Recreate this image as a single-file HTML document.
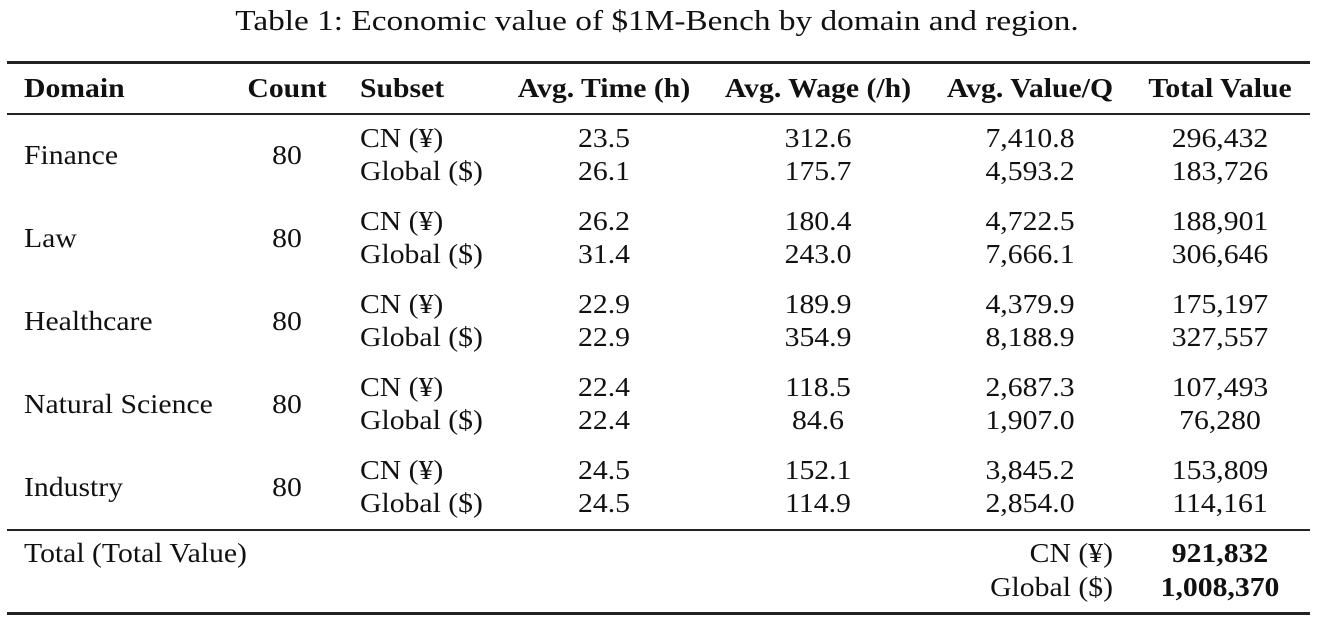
<!DOCTYPE html>
<html><head><meta charset="utf-8"><style>
body{margin:0;width:1324px;height:625px;background:#fff;position:relative;overflow:hidden;font-family:"Liberation Serif","Noto Serif CJK SC",serif;font-size:27px;color:#111}
.t{position:absolute;line-height:30px;white-space:nowrap;transform-origin:left center;transform:scaleX(1.1)}
.c{transform-origin:center center;transform:translateX(-50%) scaleX(1.1)}
.r{transform-origin:right center;transform:translateX(-100%) scaleX(1.1)}
.b{font-weight:bold}
.rule{position:absolute;left:7px;width:1303px;background:#222}
</style></head><body>
<div class="t c" style="left:657px;top:7px;font-size:28px;transform:translateX(-50%) scaleX(1.19)">Table 1: Economic value of $1M-Bench by domain and region.</div>
<div class="rule" style="top:61px;height:3px"></div>
<div class="rule" style="top:113px;height:2px"></div>
<div class="rule" style="top:529px;height:2px"></div>
<div class="rule" style="top:612px;height:3px"></div>

<div class="t b" style="left:24px;top:73px">Domain</div>
<div class="t b c" style="left:287px;top:73px">Count</div>
<div class="t b" style="left:360px;top:73px">Subset</div>
<div class="t b c" style="left:604px;top:73px">Avg. Time (h)</div>
<div class="t b c" style="left:818px;top:73px">Avg. Wage (/h)</div>
<div class="t b c" style="left:1030px;top:73px">Avg. Value/Q</div>
<div class="t b c" style="left:1220px;top:73px">Total Value</div>

<div class="t" style="left:24px;top:140px">Finance</div>
<div class="t c" style="left:287px;top:140px">80</div>
<div class="t" style="left:360px;top:123px">CN (¥)</div>
<div class="t" style="left:360px;top:156px">Global ($)</div>
<div class="t c" style="left:604px;top:123px">23.5</div><div class="t c" style="left:604px;top:156px">26.1</div>
<div class="t c" style="left:818px;top:123px">312.6</div><div class="t c" style="left:818px;top:156px">175.7</div>
<div class="t c" style="left:1030px;top:123px">7,410.8</div><div class="t c" style="left:1030px;top:156px">4,593.2</div>
<div class="t c" style="left:1220px;top:123px">296,432</div><div class="t c" style="left:1220px;top:156px">183,726</div>

<div class="t" style="left:24px;top:223px">Law</div>
<div class="t c" style="left:287px;top:223px">80</div>
<div class="t" style="left:360px;top:206px">CN (¥)</div>
<div class="t" style="left:360px;top:239px">Global ($)</div>
<div class="t c" style="left:604px;top:206px">26.2</div><div class="t c" style="left:604px;top:239px">31.4</div>
<div class="t c" style="left:818px;top:206px">180.4</div><div class="t c" style="left:818px;top:239px">243.0</div>
<div class="t c" style="left:1030px;top:206px">4,722.5</div><div class="t c" style="left:1030px;top:239px">7,666.1</div>
<div class="t c" style="left:1220px;top:206px">188,901</div><div class="t c" style="left:1220px;top:239px">306,646</div>

<div class="t" style="left:24px;top:306px">Healthcare</div>
<div class="t c" style="left:287px;top:306px">80</div>
<div class="t" style="left:360px;top:289px">CN (¥)</div>
<div class="t" style="left:360px;top:322px">Global ($)</div>
<div class="t c" style="left:604px;top:289px">22.9</div><div class="t c" style="left:604px;top:322px">22.9</div>
<div class="t c" style="left:818px;top:289px">189.9</div><div class="t c" style="left:818px;top:322px">354.9</div>
<div class="t c" style="left:1030px;top:289px">4,379.9</div><div class="t c" style="left:1030px;top:322px">8,188.9</div>
<div class="t c" style="left:1220px;top:289px">175,197</div><div class="t c" style="left:1220px;top:322px">327,557</div>

<div class="t" style="left:24px;top:389px">Natural Science</div>
<div class="t c" style="left:287px;top:389px">80</div>
<div class="t" style="left:360px;top:372px">CN (¥)</div>
<div class="t" style="left:360px;top:405px">Global ($)</div>
<div class="t c" style="left:604px;top:372px">22.4</div><div class="t c" style="left:604px;top:405px">22.4</div>
<div class="t c" style="left:818px;top:372px">118.5</div><div class="t c" style="left:818px;top:405px">84.6</div>
<div class="t c" style="left:1030px;top:372px">2,687.3</div><div class="t c" style="left:1030px;top:405px">1,907.0</div>
<div class="t c" style="left:1220px;top:372px">107,493</div><div class="t c" style="left:1220px;top:405px">76,280</div>

<div class="t" style="left:24px;top:472px">Industry</div>
<div class="t c" style="left:287px;top:472px">80</div>
<div class="t" style="left:360px;top:455px">CN (¥)</div>
<div class="t" style="left:360px;top:488px">Global ($)</div>
<div class="t c" style="left:604px;top:455px">24.5</div><div class="t c" style="left:604px;top:488px">24.5</div>
<div class="t c" style="left:818px;top:455px">152.1</div><div class="t c" style="left:818px;top:488px">114.9</div>
<div class="t c" style="left:1030px;top:455px">3,845.2</div><div class="t c" style="left:1030px;top:488px">2,854.0</div>
<div class="t c" style="left:1220px;top:455px">153,809</div><div class="t c" style="left:1220px;top:488px">114,161</div>

<div class="t" style="left:24px;top:538px">Total (Total Value)</div>
<div class="t r" style="left:1113px;top:538px">CN (¥)</div>
<div class="t r" style="left:1113px;top:572px">Global ($)</div>
<div class="t b c" style="left:1220px;top:538px">921,832</div>
<div class="t b c" style="left:1220px;top:572px">1,008,370</div>
</body></html>
